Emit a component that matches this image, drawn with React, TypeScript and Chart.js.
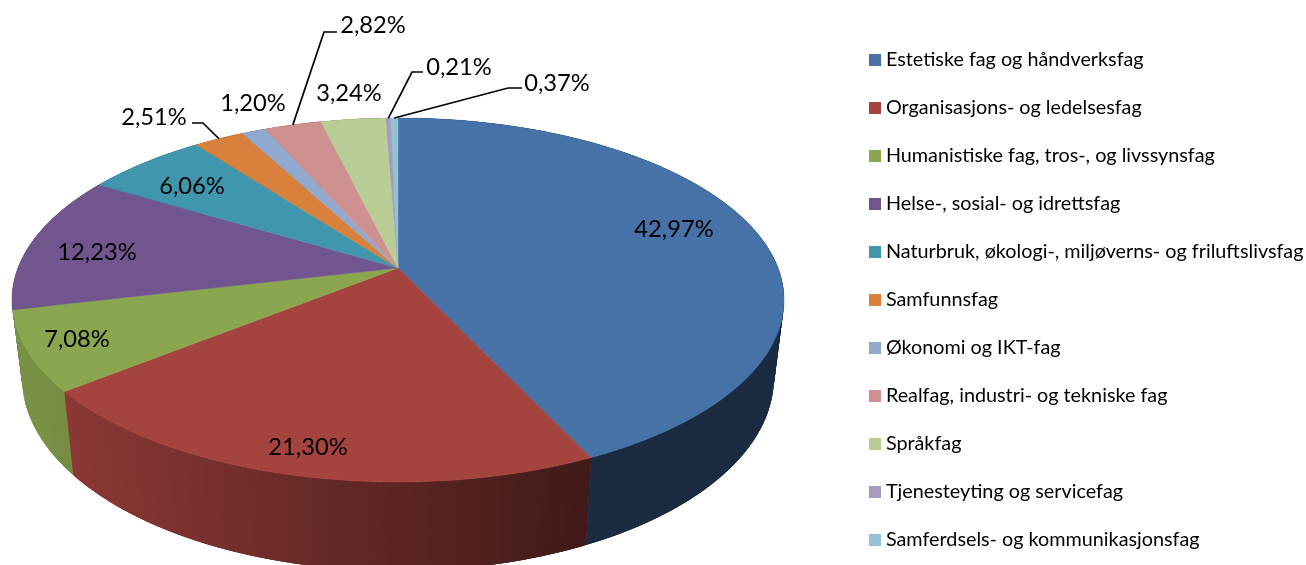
import React, { useEffect, useRef } from "react";
import { Chart, registerables } from "chart.js";

Chart.register(...registerables);

const categories = [
  "Estetiske fag og håndverksfag",
  "Organisasjons- og ledelsesfag",
  "Humanistiske fag, tros-, og livssynsfag",
  "Helse-, sosial- og idrettsfag",
  "Naturbruk, økologi-, miljøverns- og friluftslivsfag",
  "Samfunnsfag",
  "Økonomi og IKT-fag",
  "Realfag, industri- og tekniske fag",
  "Språkfag",
  "Tjenesteyting og servicefag",
  "Samferdsels- og kommunikasjonsfag",
];
const shares = [42.97, 21.3, 7.08, 12.23, 6.06, 2.51, 1.2, 2.82, 3.24, 0.21, 0.37];
const colors = [
  "#4672a8", "#a5433f", "#8aa64f", "#71558f", "#3f96ad", "#d9813c",
  "#92a9cf", "#cf9190", "#b9cd96", "#a99bbd", "#92c3d4",
];

// Screen placement of each percentage label (centre) and optional leader line.
const labelPlacement: { x: number; y: number; leader?: number[] }[] = [
  { x: 674, y: 229 },
  { x: 308, y: 447 },
  { x: 77, y: 339 },
  { x: 97, y: 252 },
  { x: 192, y: 186 },
  { x: 154, y: 117, leader: [192, 123, 203, 123] },
  { x: 253, y: 103 },
  { x: 373, y: 25, leader: [337, 32, 324, 32] },
  { x: 349, y: 93 },
  { x: 459, y: 67, leader: [423, 72, 412, 72] },
  { x: 557, y: 83, leader: [522, 88, 508, 88] },
];

const K = 0.1758;
const topPlane = { cx: 398, cy: 268, a: 380, b: 176.4, k: K };
const bottomPlane = { cx: 398, cy: 344, a: 370, b: 187, k: K };
const LABEL_FONT = "23.7px Lato";

function project(p: typeof topPlane, theta: number, r = 1) {
  const c = -Math.cos(theta) * r;
  const s = Math.sin(theta) * r;
  const d = 1 - p.k * c;
  return { x: p.cx + (p.a * s) / d, y: p.cy + (p.b * c) / d };
}

function hexRgb(h: string) {
  return [1, 3, 5].map((i) => parseInt(h.slice(i, i + 2), 16));
}

function sideColor(hex: string, x: number) {
  const t = Math.max(0, Math.min(1, (x - 30) / (587 - 30)));
  const m = 0.88 - 0.49 * t;
  const [r, g, b] = hexRgb(hex);
  return `rgb(${r * m},${g * m},${b * m})`;
}

const pie3d = {
  id: "pie3d",
  beforeDraw(chart: any) {
    const lg = chart.legend;
    if (lg) {
      const pad = lg.options.labels.padding;
      lg.left = 873 - pad;
      lg.right = lg.left + lg.width;
      lg.top = 50.1 - pad;
      lg.bottom = lg.top + lg.height;
    }
  },
  beforeDatasetsDraw(chart: any) {
    const ctx: CanvasRenderingContext2D = chart.ctx;
    const arcs = chart.getDatasetMeta(0).data;
    const step = Math.PI / 360;
    const strips: { t0: number; i: number; e0: number; e1: number }[] = [];
    arcs.forEach((arc: any, i: number) => {
      const a0 = arc.startAngle + Math.PI / 2;
      const a1 = arc.endAngle + Math.PI / 2;
      for (let t = a0; t < a1; t += step) {
        strips.push({
          t0: t,
          i,
          e0: Math.max(t - step, a0),
          e1: Math.min(t + 2 * step, a1),
        });
      }
    });
    // back to front, each strip overlaps its neighbours so no seams show
    strips.sort((p, q) => Math.cos(q.t0) - Math.cos(p.t0));
    strips.forEach(({ t0, e0, e1, i }) => {
      const A = project(topPlane, e0);
      const B = project(topPlane, e1);
      const C = project(bottomPlane, e1);
      const D = project(bottomPlane, e0);
      const M = project(topPlane, t0);
      ctx.fillStyle = sideColor(colors[i], M.x);
      ctx.beginPath();
      ctx.moveTo(A.x, A.y);
      ctx.lineTo(B.x, B.y);
      ctx.lineTo(C.x, C.y);
      ctx.lineTo(D.x, D.y);
      ctx.closePath();
      ctx.fill();
    });
    arcs.forEach((arc: any, i: number) => {
      const a0 = arc.startAngle + Math.PI / 2;
      const a1 = arc.endAngle + Math.PI / 2;
      ctx.fillStyle = colors[i];
      ctx.strokeStyle = colors[i];
      ctx.lineWidth = 0.5;
      ctx.beginPath();
      ctx.moveTo(topPlane.cx, topPlane.cy);
      for (let t = a0; t < a1; t += step) {
        const P = project(topPlane, t);
        ctx.lineTo(P.x, P.y);
      }
      const E = project(topPlane, a1);
      ctx.lineTo(E.x, E.y);
      ctx.closePath();
      ctx.fill();
      ctx.stroke();
    });
    return false;
  },
  afterDraw(chart: any) {
    const ctx: CanvasRenderingContext2D = chart.ctx;
    const arcs = chart.getDatasetMeta(0).data;
    ctx.save();
    ctx.strokeStyle = "#000";
    ctx.lineWidth = 1.7;
    ctx.fillStyle = "#000";
    ctx.font = LABEL_FONT;
    ctx.textAlign = "center";
    ctx.textBaseline = "middle";
    shares.forEach((v, i) => {
      const pl = labelPlacement[i];
      if (pl.leader) {
        const mid = (arcs[i].startAngle + arcs[i].endAngle) / 2 + Math.PI / 2;
        const R = project(topPlane, mid);
        ctx.beginPath();
        ctx.moveTo(pl.leader[0], pl.leader[1]);
        ctx.lineTo(pl.leader[2], pl.leader[3]);
        ctx.lineTo(R.x, R.y);
        ctx.stroke();
      }
      ctx.fillText(v.toFixed(2).replace(".", ",") + "%", pl.x, pl.y);
    });
    ctx.restore();
  },
};

export default function App() {
  const ref = useRef<HTMLCanvasElement>(null);
  useEffect(() => {
    document.body.style.margin = "0";
    const swatches = colors.map((c) => {
      const cv = document.createElement("canvas");
      cv.width = 12;
      cv.height = 12;
      const g = cv.getContext("2d")!;
      g.fillStyle = c;
      g.fillRect(0, 0, 12, 12);
      return cv;
    });
    const chart = new Chart(ref.current!, {
      type: "pie",
      data: {
        labels: categories,
        datasets: [{ data: shares, backgroundColor: colors, borderWidth: 0 }],
      },
      options: {
        responsive: false,
        animation: false,
        events: [],
        plugins: {
          tooltip: { enabled: false },
          legend: {
            display: true,
            position: "right",
            align: "start",
            labels: {
              usePointStyle: true,
              boxWidth: 3,
              boxHeight: 12,
              padding: 28.2,
              color: "#000",
              font: { family: "Lato", size: 19.8 },
              generateLabels(c: any) {
                const base = (Chart as any).overrides.pie.plugins.legend.labels.generateLabels(c);
                return base.map((it: any, i: number) => ({
                  ...it,
                  pointStyle: swatches[i],
                  lineWidth: 0,
                }));
              },
            },
          },
        },
      } as any,
      plugins: [pie3d as any],
    });
    return () => chart.destroy();
  }, []);
  return (
    <canvas
      ref={ref}
      width={1306}
      height={565}
      style={{ display: "block", width: 1306, height: 565 }}
    />
  );
}
